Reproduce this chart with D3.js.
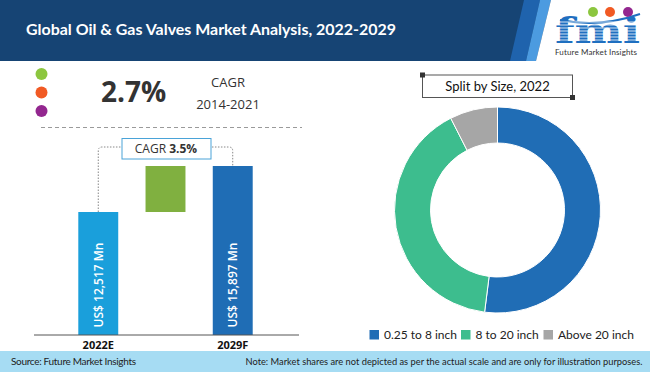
<!DOCTYPE html>
<html>
<head>
<meta charset="utf-8">
<script src="https://cdn.jsdelivr.net/npm/d3@7"></script>
<style>
  html, body { margin: 0; padding: 0; background: #fff; }
  svg { display: block; }
</style>
</head>
<body>
<svg id="chart" width="650" height="372"></svg>
<script>
const width = 650;
const height = 372;

// chart data
const title = "Global Oil & Gas Valves Market Analysis, 2022-2029";
const years = ["2022E", "2029F"];
const marketValues = [12517, 15897];
const barLabels = ["US$ 12,517 Mn", "US$ 15,897 Mn"];
const historicCagr = "2.7%";
const historicPeriod = "2014-2021";
const forecastCagr = "3.5%";
const sizeSegments = ["0.25 to 8 inch", "8 to 20 inch", "Above 20 inch"];
const sizeShares = [52, 40.5, 7.5];
const sizeColors = ["#206db5", "#3dbd8e", "#a6a6a6"];
const sourceText = "Source: Future Market Insights";
const noteText = "Note: Market shares are not depicted as per the actual scale and are only for illustration purposes.";

const svg = d3.select("#chart");
const sans = "Lato, 'Open Sans', sans-serif";
const round = "'Open Sans', sans-serif";

// header band
svg.append("rect").attr("width", width).attr("height", 61).attr("fill", "#164474");
svg.append("path").attr("d", "M524,0L540,0L526,61L510,61Z").attr("fill", "#1f63ad");
svg.append("path").attr("d", "M540,0L551,0L536,61L526,61Z").attr("fill", "#4c9be0");
svg.append("path").attr("d", "M551,0L650,0L650,61L536,61Z").attr("fill", "#fff");

svg.append("text")
    .attr("x", 26).attr("y", 35)
    .attr("fill", "#fff")
    .style("font-family", sans)
    .style("font-weight", "bold")
    .style("font-size", "16px")
    .attr("textLength", 370)
    .attr("lengthAdjust", "spacingAndGlyphs")
    .text(title);

// logo
svg.append("defs").append("clipPath")
    .attr("id", "logo-clip")
    .append("rect").attr("x", 550).attr("y", 4).attr("width", 96).attr("height", 40);

const logo = svg.append("g");
logo.append("path")
    .attr("d", "M560,20 Q600,28 640,14")
    .attr("fill", "none").attr("stroke", "#1f6fc0").attr("stroke-width", 2);
[["#8cc63f", 593], ["#f15a24", 610], ["#93278f", 628]].forEach(([c, cx]) => {
  logo.append("circle").attr("cx", cx).attr("cy", 12).attr("r", 5).attr("fill", c);
});
const mark = logo.append("g").attr("clip-path", "url(#logo-clip)");
mark.append("text")
    .attr("x", 555).attr("y", 43)
    .attr("fill", "#1f6fc0")
    .style("font-family", "'DejaVu Serif', serif")
    .style("font-weight", "bold")
    .style("font-size", "36px")
    .attr("textLength", 85)
    .attr("lengthAdjust", "spacingAndGlyphs")
    .text("fmi");
d3.range(22, 43, 3).forEach(yy => {
  mark.append("line").attr("x1", 553).attr("x2", 642).attr("y1", yy).attr("y2", yy)
      .attr("stroke", "#fff").attr("stroke-width", 0.8);
});
logo.append("text")
    .attr("x", 596).attr("y", 55)
    .attr("text-anchor", "middle")
    .attr("fill", "#333")
    .style("font-family", sans)
    .style("font-size", "8px")
    .attr("textLength", 82)
    .text("Future Market Insights");

// historic CAGR block
[["#8cc63f", 74], ["#f15a24", 92.5], ["#93278f", 111]].forEach(([c, cy]) => {
  svg.append("circle").attr("cx", 41.5).attr("cy", cy).attr("r", 6).attr("fill", c);
});
svg.append("text")
    .attr("x", 101).attr("y", 102)
    .attr("fill", "#333")
    .style("font-family", round)
    .style("font-weight", "bold")
    .style("font-size", "28px")
    .text(historicCagr);
svg.append("text")
    .attr("x", 228).attr("y", 86.5)
    .attr("text-anchor", "middle").attr("fill", "#333")
    .style("font-family", round).style("font-size", "13px")
    .text("CAGR");
svg.append("text")
    .attr("x", 228).attr("y", 108.5)
    .attr("text-anchor", "middle").attr("fill", "#333")
    .style("font-family", round).style("font-size", "13px")
    .text(historicPeriod);

svg.append("line")
    .attr("x1", 41).attr("x2", 302).attr("y1", 127.5).attr("y2", 127.5)
    .attr("stroke", "#9a9a9a").attr("stroke-dasharray", "4,3");

// bar chart
const steps = [years[0], "growth", years[1]];
const baseY = 335;

const x = d3.scaleBand()
    .domain(steps)
    .range([51, 280])
    .padding(0.406);

// not to scale: the floor of the value axis is raised, as in the source
const y = d3.scaleLinear()
    .domain([3480, 15897])
    .range([baseY, 166]);

const bars = [
  {key: years[0], y0: 3480, y1: marketValues[0], color: "#1a9fdb", label: barLabels[0]},
  {key: "growth", y0: marketValues[0], y1: marketValues[1], color: "#80b040", label: ""},
  {key: years[1], y0: 3480, y1: marketValues[1], color: "#1f6db5", label: barLabels[1]}
];

svg.selectAll("rect.bar")
    .data(bars)
    .enter()
    .append("rect")
    .attr("class", "bar")
    .attr("x", d => x(d.key))
    .attr("y", d => y(d.y1))
    .attr("width", x.bandwidth())
    .attr("height", d => y(d.y0) - y(d.y1))
    .attr("fill", d => d.color);

svg.selectAll("text.barlabel")
    .data(bars.filter(d => d.label))
    .enter()
    .append("text")
    .attr("class", "barlabel")
    .attr("transform", d => `translate(${x(d.key) + x.bandwidth() / 2 + 4.5},${baseY - 50}) rotate(-90)`)
    .attr("text-anchor", "middle")
    .attr("fill", "#fff")
    .style("font-family", round)
    .style("font-weight", "600")
    .style("font-size", "12px")
    .text(d => d.label);

svg.append("line")
    .attr("x1", 34).attr("x2", 299).attr("y1", baseY).attr("y2", baseY)
    .attr("stroke", "#555").attr("stroke-width", 1);

const xAxis = svg.append("g")
    .attr("transform", `translate(0,${baseY})`)
    .call(d3.axisBottom(x).tickValues(years).tickSize(0).tickPadding(6));
xAxis.select(".domain").remove();
xAxis.selectAll("text")
    .attr("fill", "#111")
    .style("font-family", round)
    .style("font-weight", "bold")
    .style("font-size", "11px");

// CAGR connector
const cx1 = x(years[0]) + x.bandwidth() / 2;
const cx2 = x(years[1]) + x.bandwidth() / 2;
const cy = 147;
const r = 4;
svg.append("path")
    .attr("d", `M${cx1},${y(marketValues[0])}L${cx1},${cy + r}Q${cx1},${cy} ${cx1 + r},${cy}L${cx2 - r},${cy}Q${cx2},${cy} ${cx2},${cy + r}L${cx2},${y(marketValues[1])}`)
    .attr("fill", "none")
    .attr("stroke", "#888")
    .attr("stroke-dasharray", "1.5,1.5");

svg.append("rect")
    .attr("x", 122).attr("y", 138.5).attr("width", 89).attr("height", 20.5)
    .attr("fill", "#fff").attr("stroke", "#4aa3d8").attr("stroke-width", 1);
const cagrText = svg.append("text")
    .attr("x", 166).attr("y", 153)
    .attr("text-anchor", "middle").attr("fill", "#333")
    .style("font-family", round).style("font-size", "12px");
cagrText.append("tspan").text("CAGR ");
cagrText.append("tspan").style("font-weight", "bold").text(forecastCagr);

// donut
svg.append("rect")
    .attr("x", 422.5).attr("y", 75).attr("width", 150).attr("height", 22.5)
    .attr("fill", "#fff").attr("stroke", "#555").attr("stroke-width", 1);
svg.append("rect").attr("x", 420).attr("y", 72.5).attr("width", 5).attr("height", 5).attr("fill", "#333");
svg.append("rect").attr("x", 570).attr("y", 95).attr("width", 5).attr("height", 5).attr("fill", "#333");
svg.append("text")
    .attr("x", 497.5).attr("y", 91)
    .attr("text-anchor", "middle").attr("fill", "#111")
    .style("font-family", sans).style("font-size", "13px")
    .text("Split by Size, 2022");

const pie = d3.pie().sort(null).value(d => d);
const arc = d3.arc().innerRadius(67).outerRadius(103);

svg.append("g")
    .attr("transform", "translate(497.5,210)")
    .selectAll("path")
    .data(pie(sizeShares))
    .enter()
    .append("path")
    .attr("d", arc)
    .attr("fill", (d, i) => sizeColors[i])
    .attr("stroke", "#fff")
    .attr("stroke-width", 1);

const legendX = [369.5, 461, 543.5];
const legend = svg.selectAll("g.legend")
    .data(sizeSegments)
    .enter()
    .append("g")
    .attr("class", "legend")
    .attr("transform", (d, i) => `translate(${legendX[i]},330)`);
legend.append("rect").attr("width", 9.5).attr("height", 9.5).attr("fill", (d, i) => sizeColors[i]);
legend.append("text")
    .attr("x", 14.5).attr("y", 8.5)
    .attr("fill", "#222")
    .style("font-family", sans).style("font-size", "12px")
    .text(d => d);

// footer
svg.append("rect").attr("y", 351).attr("width", width).attr("height", 21).attr("fill", "#a6dcf3");
svg.append("text")
    .attr("x", 11).attr("y", 365)
    .attr("fill", "#222")
    .style("font-family", sans).style("font-size", "10px")
    .attr("textLength", 125)
    .text(sourceText);
svg.append("text")
    .attr("x", 245.5).attr("y", 365)
    .attr("fill", "#222")
    .style("font-family", sans).style("font-size", "9px")
    .attr("textLength", 397)
    .attr("lengthAdjust", "spacingAndGlyphs")
    .text(noteText);
</script>
</body>
</html>
